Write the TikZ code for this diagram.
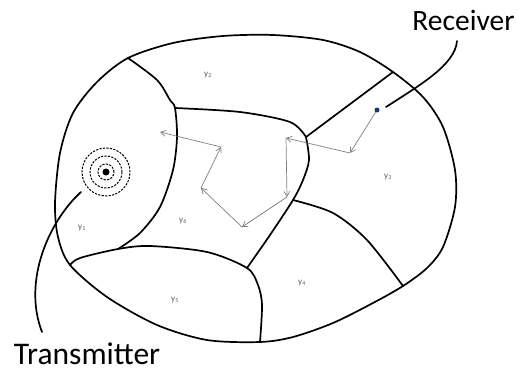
\documentclass[tikz,border=0pt]{standalone}
\usepackage{fontspec}
\setmainfont{Carlito}
\usetikzlibrary{arrows.meta, positioning, calc}
\definecolor{hopgray}{RGB}{128,128,128}
\definecolor{lblgray}{RGB}{90,90,105}
\definecolor{rxblue}{RGB}{30,55,100}
\tikzset{
  wall/.style={line width=1.7pt, line join=round, line cap=round},
  ring/.style={draw, dash pattern=on 2.2pt off 1.3pt, line width=1pt},
  hop/.style={-{Straight Barb[length=5pt, width=6pt]}, draw=hopgray, line width=0.7pt},
  zone/.style={font=\fontsize{9}{9}\selectfont, text=lblgray, inner sep=0pt},
  big/.style={font=\fontsize{#1}{#1}\selectfont, inner sep=0pt},
}

\begin{document}
\begin{tikzpicture}[x=1pt, y=-1pt]
  \useasboundingbox (0,0) rectangle (517,372);

  % junctions on the outline and inside
  \coordinate (j12) at (128,58);
  \coordinate (j23) at (393,72);
  \coordinate (j34) at (403,286);
  \coordinate (j45) at (260,342);
  \coordinate (j15) at (70,265);
  \coordinate (a)   at (175,108);
  \coordinate (b)   at (118,249);
  \coordinate (c)   at (306,137);
  \coordinate (d)   at (293,200);
  \coordinate (e)   at (247,268);

  % outline
  \draw[wall] plot[smooth cycle] coordinates {
    (j12) (173,43) (223,36) (273,35) (323,40) (360,52) (j23) (423,97)
    (443,127) (455,170) (455,207) (443,247) (427,268) (j34) (373,303)
    (333,323) (293,337) (j45) (207,340) (157,325) (107,297) (j15)
    (58,237) (55,203) (60,153) (73,113) (97,82)};

  % region borders
  \draw[wall] plot[smooth] coordinates {(j12) (157,80) (170,100) (a) (177,137) (173,170) (160,207) (140,233) (b)};
  \draw[wall] plot[smooth] coordinates {(a) (240,112) (290,122) (c)};
  \draw[wall] (c) -- (j23);
  \draw[wall] plot[smooth] coordinates {(c) (309,160) (303,180) (d) (270,235) (e)};
  \draw[wall] plot[smooth] coordinates {(d) (333,213) (367,240) (j34)};
  \draw[wall] plot[smooth] coordinates {(j15) (80,258) (b) (150,246) (207,252) (e) (258,285) (262,305) (j45)};

  % zone labels
  \node[zone] (y1) at (82,228)  {y\textsubscript{1}};
  \node[zone] (y2) at (208,75)  {y\textsubscript{2}};
  \node[zone] (y3) at (388,177) {y\textsubscript{3}};
  \node[zone] (y4) at (302,283) {y\textsubscript{4}};
  \node[zone] (y5) at (175,300) {y\textsubscript{5}};
  \node[zone] (y6) at (183,221) {y\textsubscript{6}};

  % transmitter
  \node[circle, fill, inner sep=0pt, minimum size=7pt] (tx) at (106,172) {};
  \draw[ring] (tx.center) circle (8pt);
  \draw[ring] (tx.center) circle (16pt);
  \draw[ring] (tx.center) circle (24pt);
  \node[big=31.5, anchor=base] (trans) at (87,364.5) {Transmitter};
  \coordinate (tstart) at (81,192);
  \coordinate (tend)   at (42,332);
  \draw[wall] (tstart) .. controls (50,220) and (22,280) .. (tend);

  % receiver
  \node[circle, fill=rxblue, inner sep=0pt, minimum size=5pt] (rx) at (377,110) {};
  \node[big=29.5, anchor=base] (recv) at (463.5,30.5) {Receiver};
  \coordinate (rstart) at (386,107);
  \coordinate (rend)   at (457,41);
  \draw[wall] (rstart) .. controls (420,85) and (455,65) .. (rend);

  % path of the signal
  \coordinate (h1) at (350,153);
  \coordinate (h2) at (286,138);
  \coordinate (h3) at (287,197);
  \coordinate (h4) at (242,227);
  \coordinate (h5) at (201,188);
  \coordinate (h6) at (221,147);
  \coordinate (h7) at (160,132);
  \draw[hop] (rx) -- (h1);
  \draw[hop] (h1) -- (h2);
  \draw[hop] (h2) -- (h3);
  \draw[hop] (h3) -- (h4);
  \draw[hop] (h4) -- (h5);
  \draw[hop] (h5) -- (h6);
  \draw[hop] (h6) -- (h7);
\end{tikzpicture}
\end{document}
